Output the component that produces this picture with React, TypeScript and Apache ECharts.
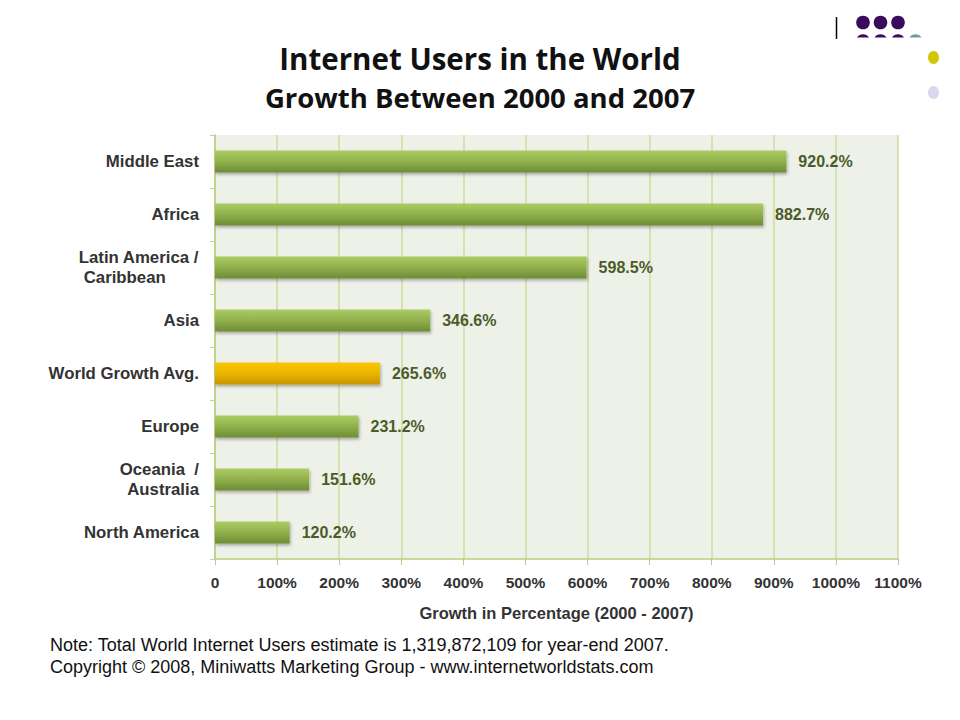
import React, { useEffect, useRef } from "react";
import * as echarts from "echarts";

const categories = [
  "Middle East",
  "Africa",
  "Latin America /\nCaribbean",
  "Asia",
  "World Growth Avg.",
  "Europe",
  "Oceania  /\nAustralia",
  "North America",
];
const growthValues = [920.2, 882.7, 598.5, 346.6, 265.6, 231.2, 151.6, 120.2];
const highlightCategory = "World Growth Avg.";
const leftAlignedCategory = "Latin America /\nCaribbean";

const titleLine1 = "Internet Users in the World";
const titleLine2 = "Growth Between 2000 and 2007";
const xAxisName = "Growth in Percentage (2000 - 2007)";
const noteLines = [
  "Note: Total World Internet Users estimate is 1,319,872,109 for year-end 2007.",
  "Copyright \u00A9 2008, Miniwatts Marketing Group - www.internetworldstats.com",
];

export default function App() {
  const ref = useRef<HTMLDivElement>(null);
  useEffect(() => {
    if (!ref.current) return;
    const chart = echarts.init(ref.current, undefined, { renderer: "svg" });
    const greenGrad = new echarts.graphic.LinearGradient(0, 0, 0, 1, [
      { offset: 0, color: "#abcb64" },
      { offset: 0.5, color: "#90b04b" },
      { offset: 1, color: "#6d8c37" },
    ]);
    const orangeGrad = new echarts.graphic.LinearGradient(0, 0, 0, 1, [
      { offset: 0, color: "#f9c800" },
      { offset: 0.5, color: "#ebb400" },
      { offset: 1, color: "#c99300" },
    ]);
    const labelFont = "'Liberation Sans', Arial, sans-serif";
    const catFontSize = 16.8;
    const richBase = {
      fontFamily: labelFont,
      fontWeight: "bold" as const,
      fontSize: catFontSize,
      color: "#333",
      lineHeight: 20,
    };

    chart.setOption({
      animation: false,
      backgroundColor: "#ffffff",
      title: [
        {
          text: titleLine1,
          left: "center",
          top: 38,
          textStyle: { fontFamily: "'Open Sans', sans-serif", fontWeight: "bold", fontSize: 29.5, color: "#111" },
        },
        {
          text: titleLine2,
          left: "center",
          top: 78,
          textStyle: { fontFamily: "'Open Sans', sans-serif", fontWeight: "bold", fontSize: 27.5, color: "#111" },
        },
      ],
      grid: {
        left: 215,
        right: 62,
        top: 135,
        bottom: 161,
        show: true,
        backgroundColor: "#eef1e8",
        borderWidth: 0,
      },
      xAxis: {
        type: "value",
        min: 0,
        max: 1100,
        interval: 100,
        name: xAxisName,
        nameLocation: "middle",
        nameGap: 45,
        nameTextStyle: { fontFamily: labelFont, fontWeight: "bold", fontSize: 16.5, color: "#333" },
        axisLine: { show: true, lineStyle: { color: "#b6cf7c", width: 1.5 } },
        axisTick: { show: true, length: 6, lineStyle: { color: "#b6cf7c" } },
        splitLine: { show: true, lineStyle: { color: "#cddca0", width: 1.5 } },
        axisLabel: {
          margin: 15,
          fontFamily: labelFont,
          fontWeight: "bold",
          fontSize: 15.5,
          color: "#333",
          formatter: (v: number) => (v === 0 ? "0" : v + "%"),
        },
      },
      yAxis: {
        type: "category",
        data: categories,
        inverse: true,
        axisLine: { show: true, lineStyle: { color: "#b6cf7c", width: 1.5 } },
        axisTick: { show: true, length: 5, lineStyle: { color: "#c3cfa8" } },
        axisLabel: {
          margin: 16,
          fontFamily: labelFont,
          fontWeight: "bold",
          fontSize: catFontSize,
          color: "#333",
          lineHeight: 20,
          formatter: (v: string) => {
            if (v === leftAlignedCategory) {
              const parts = v.split("\n");
              return `{a|${parts[0]}}\n{b|${parts[1]}}`;
            }
            return v;
          },
          rich: {
            a: { ...richBase, align: "left" },
            b: { ...richBase, align: "left", padding: [0, 0, 0, 5] },
          },
        },
      },
      series: [
        {
          type: "bar",
          barWidth: 22,
          data: growthValues.map((v, i) => ({
            value: v,
            itemStyle: {
              color: categories[i] === highlightCategory ? orangeGrad : greenGrad,
              shadowColor: "rgba(0,0,0,0.3)",
              shadowBlur: 3,
              shadowOffsetY: 2,
              shadowOffsetX: 1,
            },
          })),
          label: {
            show: true,
            position: "right",
            distance: 12,
            fontFamily: labelFont,
            fontWeight: "bold",
            fontSize: 16,
            color: "#4b5b2a",
            formatter: (p: any) => Number(p.value).toFixed(1) + "%",
          },
        },
      ],
      graphic: [
        { type: "line", shape: { x1: 836.5, y1: 17, x2: 836.5, y2: 39 }, style: { stroke: "#000", lineWidth: 1.5 } },
        { type: "circle", shape: { cx: 863, cy: 41, r: 6.8 }, style: { fill: "#3a0a5c" } },
        { type: "circle", shape: { cx: 880.5, cy: 41, r: 6.8 }, style: { fill: "#3a0a5c" } },
        { type: "circle", shape: { cx: 898, cy: 41, r: 6.8 }, style: { fill: "#3a0a5c" } },
        { type: "circle", shape: { cx: 915.5, cy: 41, r: 6.8 }, style: { fill: "#6a9fa0" } },
        { type: "rect", shape: { x: 850, y: 37.5, width: 80, height: 12 }, style: { fill: "#ffffff" } },
        { type: "circle", shape: { cx: 863, cy: 22.5, r: 6.8 }, style: { fill: "#3a0a5c" } },
        { type: "circle", shape: { cx: 880.5, cy: 22.5, r: 6.8 }, style: { fill: "#3a0a5c" } },
        { type: "circle", shape: { cx: 898, cy: 22.5, r: 6.8 }, style: { fill: "#3a0a5c" } },
        { type: "ellipse", shape: { cx: 933.5, cy: 57.5, rx: 5.5, ry: 6.5 }, style: { fill: "#d2c800" } },
        { type: "ellipse", shape: { cx: 933.5, cy: 92.5, rx: 5.5, ry: 6.5 }, style: { fill: "#d8d8ec" } },
        {
          type: "text",
          left: 50,
          top: 634,
          style: {
            text: noteLines.join("\n"),
            font: "18px 'Liberation Sans', Arial, sans-serif",
            fill: "#111",
            lineHeight: 22,
          },
        },
      ],
    });
    return () => chart.dispose();
  }, []);
  return (
    <div
      ref={ref}
      style={{ position: "fixed", left: 0, top: 0, width: 960, height: 720 }}
    />
  );
}
